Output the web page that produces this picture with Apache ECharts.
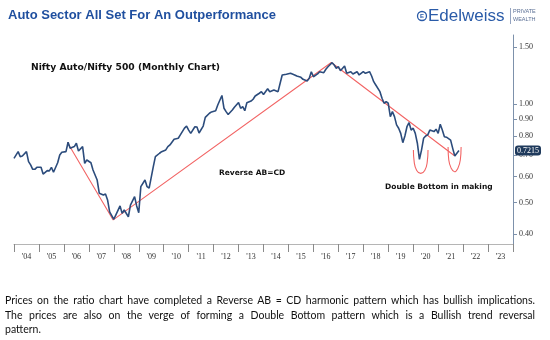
<!DOCTYPE html>
<html><head><meta charset="utf-8">
<script src="https://cdn.jsdelivr.net/npm/echarts@6/dist/echarts.min.js"></script>
<style>
html,body{margin:0;padding:0;background:#fff;}
#wrap{position:relative;width:550px;height:340px;overflow:hidden;}
#chart{position:absolute;left:0;top:0;width:550px;height:340px;}
.ln{position:absolute;left:5px;width:530px;font-family:Lato,'Open Sans',sans-serif;font-size:10.5px;line-height:14px;color:#111;white-space:nowrap;}
.j{text-align:justify;text-align-last:justify;}
</style></head><body>
<div id="wrap"><div id="chart"></div>
<div class="ln j" style="top:293px">Prices on the ratio chart have completed a Reverse AB = CD harmonic pattern which has bullish implications.</div>
<div class="ln j" style="top:308px">The prices are also on the verge of forming a Double Bottom pattern which is a Bullish trend reversal</div>
<div class="ln" style="top:322px">pattern.</div>
</div>
<script>
const yearLabels = ["'04","'05","'06","'07","'08","'09","'10","'11","'12","'13","'14","'15","'16","'17","'18","'19","'20","'21","'22","'23"];
const yTicks = [1.5, 1.0, 0.9, 0.8, 0.7, 0.6, 0.5, 0.4];
const months = [
"2004-01","2004-03","2004-04","2004-05","2004-07","2004-08","2004-09","2004-10","2004-11","2004-12",
"2005-02","2005-03","2005-05","2005-06","2005-07","2005-08","2005-10","2005-11","2005-12",
"2006-02","2006-03","2006-04","2006-06","2006-07","2006-08","2006-10","2006-11","2006-12",
"2007-02","2007-03","2007-05","2007-06","2007-08","2007-09","2007-10","2007-11",
"2008-01","2008-02","2008-04","2008-05","2008-06","2008-08","2008-09","2008-11","2008-12",
"2009-01","2009-02","2009-04","2009-05","2009-06","2009-08","2009-09","2009-11","2009-12",
"2010-02","2010-03","2010-04","2010-06","2010-08","2010-09","2010-11","2010-12",
"2011-01","2011-02","2011-04","2011-05","2011-06","2011-08","2011-09","2011-11","2011-12",
"2012-02","2012-03","2012-05","2012-06","2012-07","2012-08","2012-10","2012-11",
"2013-01","2013-02","2013-03","2013-04","2013-05","2013-07","2013-08","2013-09","2013-11","2013-12",
"2014-01","2014-03","2014-04","2014-06","2014-08","2014-09","2014-10","2014-12",
"2015-02","2015-04","2015-05","2015-07","2015-08","2015-10","2015-11","2015-12",
"2016-01","2016-03","2016-04","2016-06","2016-07","2016-08","2016-10","2016-11","2016-12",
"2017-01","2017-02","2017-04","2017-05","2017-07","2017-08","2017-10","2017-11",
"2018-01","2018-02","2018-04","2018-05","2018-06","2018-07","2018-09","2018-10","2018-11","2018-12",
"2019-01","2019-02","2019-03","2019-04","2019-05","2019-06","2019-07","2019-08","2019-09","2019-10","2019-11","2019-12",
"2020-01","2020-02","2020-03","2020-04","2020-05","2020-06","2020-07","2020-08","2020-09","2020-11","2020-12",
"2021-01","2021-02","2021-03","2021-04","2021-05","2021-07","2021-08","2021-09","2021-10","2021-11"
];
const ratio = [
0.683,0.716,0.691,0.694,0.716,0.667,0.652,0.632,0.632,0.641,
0.641,0.611,0.626,0.625,0.641,0.619,0.662,0.699,0.713,
0.716,0.765,0.733,0.742,0.760,0.719,0.742,0.659,0.675,
0.662,0.629,0.586,0.534,0.527,0.531,0.509,0.468,
0.444,0.458,0.488,0.463,0.474,0.452,0.491,0.521,0.488,
0.465,0.559,0.586,0.559,0.553,0.644,0.691,0.708,0.716,
0.725,0.742,0.751,0.782,0.787,0.806,0.846,0.858,
0.834,0.815,0.854,0.852,0.817,0.858,0.912,0.939,0.948,
0.956,0.996,1.065,0.973,0.950,0.931,0.961,0.980,
1.013,0.973,0.984,0.956,1.012,1.024,1.037,1.061,1.082,1.094,
1.073,1.117,1.094,1.107,1.094,1.161,1.231,1.237,
1.246,1.231,1.222,1.211,1.194,1.180,1.203,1.260,
1.216,1.240,1.260,1.251,1.282,1.305,1.343,1.321,1.291,
1.305,1.269,1.312,1.246,1.260,1.240,1.260,1.231,
1.260,1.246,1.260,1.222,1.174,1.147,1.094,1.044,1.008,1.019,
1.008,0.917,0.950,0.917,0.865,0.845,0.815,0.763,0.800,0.854,0.879,0.834,
0.845,0.815,0.760,0.678,0.724,0.787,0.800,0.806,0.834,0.825,0.839,
0.815,0.869,0.834,0.796,0.793,0.777,0.733,0.694,0.708,0.7215
];
// Reverse AB=CD pattern pivots (decimal years, ratio)
const abcdX = [2006.137, 2007.975, 2016.717, 2021.642];
const abcdY = [0.765, 0.442, 1.345, 0.697];
// Double bottom arcs
const arc1X = [2020.008, 2020.040, 2020.141, 2020.302, 2020.462, 2020.563, 2020.594];
const arc1Y = [0.725, 0.666, 0.627, 0.614, 0.627, 0.666, 0.725];
const arc2X = [2021.398, 2021.426, 2021.526, 2021.654, 2021.788, 2021.888, 2021.920];
const arc2Y = [0.740, 0.675, 0.636, 0.621, 0.636, 0.675, 0.740];

const toT = s => { const p = s.split('-'); return +p[0] + (+p[1] - 1) / 12; };
const pair = (xs, ys) => xs.map((x, i) => [x, ys[i]]);
const lastVal = ratio[ratio.length - 1];
const blue = '#2c4c7c', red = '#f26464';
const axisFont = 'Liberation Serif';

const chart = echarts.init(document.getElementById('chart'), null, {renderer: 'canvas'});
chart.setOption({
  animation: false,
  backgroundColor: '#fff',
  grid: {left: 14, right: 37, top: 35, bottom: 96},
  xAxis: [
    {type: 'category', data: yearLabels, boundaryGap: true, position: 'bottom',
     axisLine: {show: true, lineStyle: {color: '#b5b5b5', width: 1}},
     axisTick: {show: true, interval: 0, length: 8, lineStyle: {color: '#8a8a8a'}},
     axisLabel: {interval: 0, margin: 9, fontFamily: axisFont, fontSize: 8, color: '#333'},
     splitLine: {show: false}},
    {type: 'value', min: 2004, max: 2024, show: false}
  ],
  yAxis: {
    type: 'log', logBase: 10, position: 'right', min: 0.3728, max: 1.633,
    axisLine: {show: true, lineStyle: {color: '#7d91ab', width: 1}},
    axisTick: {show: true, length: 4, customValues: yTicks, lineStyle: {color: '#7d91ab'}},
    axisLabel: {customValues: yTicks, margin: 6, formatter: v => (+v).toFixed(2), fontFamily: axisFont, fontSize: 8, color: '#333'},
    splitLine: {show: false},
    axisPointer: {
      show: true, type: 'line', status: 'show', value: lastVal, triggerTooltip: false,
      lineStyle: {opacity: 0},
      label: {show: true, formatter: () => lastVal.toFixed(4), backgroundColor: '#1f3a5c', color: '#fff',
              fontFamily: axisFont, fontSize: 8, padding: [1, 2, 1, 2], margin: 2}
    }
  },
  series: [
    {name: 'Nifty Auto/Nifty 500', type: 'line', xAxisIndex: 1, data: months.map((m, i) => [toT(m), ratio[i]]),
     showSymbol: false, lineStyle: {color: blue, width: 1.6}, z: 4, silent: true},
    {name: 'AB=CD', type: 'line', xAxisIndex: 1, data: pair(abcdX, abcdY), showSymbol: false,
     lineStyle: {color: red, width: 1.1}, z: 3, silent: true},
    {name: 'Bottom 1', type: 'line', xAxisIndex: 1, data: pair(arc1X, arc1Y), smooth: true, showSymbol: false,
     lineStyle: {color: red, width: 1.1}, z: 3, silent: true},
    {name: 'Bottom 2', type: 'line', xAxisIndex: 1, data: pair(arc2X, arc2Y), smooth: true, showSymbol: false,
     lineStyle: {color: red, width: 1.1}, z: 3, silent: true}
  ],
  graphic: [
    {type: 'text', left: 8, top: 9, style: {text: 'Auto Sector All Set For An Outperformance', fontFamily: 'Liberation Sans', fontWeight: 'bold', fontSize: 13, fill: '#1f4f9f'}},
    {type: 'circle', shape: {cx: 422, cy: 16, r: 4.5}, style: {fill: 'none', stroke: '#2a5ba8', lineWidth: 1.3}},
    {type: 'text', x: 422, y: 16.5, style: {text: 'E', fontFamily: 'Liberation Sans', fontWeight: 'bold', fontSize: 6, fill: '#2a5ba8', align: 'center', verticalAlign: 'middle'}},
    {type: 'text', x: 428, y: 16.5, style: {text: 'Edelweiss', fontFamily: 'Liberation Sans', fontSize: 17, fill: '#2a5ba8', verticalAlign: 'middle'}},
    {type: 'line', shape: {x1: 510.5, y1: 8, x2: 510.5, y2: 24}, style: {stroke: '#7a8db0', lineWidth: 0.8}},
    {type: 'text', x: 513, y: 11.5, style: {text: 'PRIVATE', fontFamily: 'Liberation Sans', fontSize: 5.5, fill: '#5b6f95', verticalAlign: 'middle'}},
    {type: 'text', x: 513, y: 19.5, style: {text: 'WEALTH', fontFamily: 'Liberation Sans', fontSize: 5.5, fill: '#5b6f95', verticalAlign: 'middle'}},
    {type: 'text', x: 31, y: 68, style: {text: 'Nifty Auto/Nifty 500 (Monthly Chart)', fontFamily: 'DejaVu Sans', fontWeight: 'bold', fontSize: 9.2, fill: '#111', verticalAlign: 'middle'}},
    {type: 'text', x: 219, y: 173.5, style: {text: 'Reverse AB=CD', fontFamily: 'DejaVu Sans', fontWeight: 'bold', fontSize: 7.5, fill: '#111', verticalAlign: 'middle'}},
    {type: 'text', x: 385, y: 187, style: {text: 'Double Bottom in making', fontFamily: 'DejaVu Sans', fontWeight: 'bold', fontSize: 7.5, fill: '#111', verticalAlign: 'middle'}}
  ]
});
</script>
</body></html>
